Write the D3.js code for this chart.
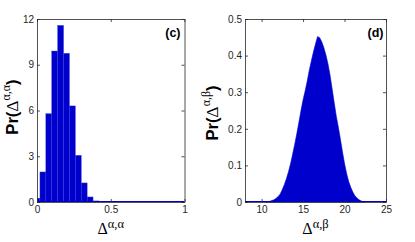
<!DOCTYPE html>
<html><head><meta charset="utf-8">
<script src="https://cdn.jsdelivr.net/npm/d3@7"></script>
<style>
html,body{margin:0;padding:0;background:#fff;}
svg{display:block;}
</style></head>
<body>
<svg id="chart" width="415" height="242"></svg>
<script>
// ---- data ----
// panel (c): histogram bin centres and heights
const binCentersC = [0,0.04,0.08,0.12,0.16,0.20,0.24,0.28,0.32,0.36,0.40,0.44,0.48,0.52,0.56,0.60,0.64,0.68,0.72,0.76,0.80,0.84,0.88,0.92,0.96,1.00];
const binValuesC  = [0.25,1.97,5.79,9.9,11.58,9.75,6.3,3.06,1.25,0.33,0.07,0,0,0,0,0,0,0,0,0,0,0,0,0,0,0];
const binWidthC = 0.04;
// panel (d): distribution
const xValuesD = [10.5,10.75,11.0,11.25,11.5,11.75,12.0,12.25,12.5,12.75,13.0,13.25,13.5,13.75,14.0,14.25,14.5,14.75,15.0,15.25,15.5,15.75,16.0,16.25,16.5,16.75,17.0,17.25,17.5,17.75,18.0,18.25,18.5,18.75,19.0,19.25,19.5,19.75,20.0,20.25,20.5,20.75,21.0,21.25,21.5,21.75,22.0,22.25,22.5];
const yValuesD = [0.000,0.001,0.002,0.004,0.006,0.010,0.015,0.022,0.034,0.048,0.064,0.083,0.105,0.131,0.158,0.187,0.218,0.250,0.279,0.303,0.330,0.360,0.385,0.410,0.432,0.452,0.449,0.438,0.422,0.402,0.378,0.347,0.310,0.272,0.235,0.205,0.172,0.137,0.105,0.078,0.056,0.040,0.027,0.017,0.011,0.006,0.003,0.001,0.000];
// ticks
const xTicksC = [0,0.5,1];
const yTicksC = [0,3,6,9,12];
const xTicksD = [10,15,20,25];
const yTicksD = [0,0.1,0.2,0.3,0.4,0.5];

const BLUE = "#0000cc";
const AX = "#262626";
const SANS = "'Liberation Sans',Arial,Helvetica,sans-serif";
const SERIF = "'Liberation Serif','Times New Roman',serif";
const svg = d3.select("#chart");
svg.append("rect").attr("width",415).attr("height",242).attr("fill","#fff");

function drawAxes(g, x, y, xt, yt, fmt){
  const [x0,x1] = x.range(), [y0,y1] = y.range();
  const styleAxis = sel => {
    sel.selectAll(".domain").attr("stroke",AX).attr("stroke-width",0.8);
    sel.selectAll(".tick line").attr("stroke",AX).attr("stroke-width",0.8);
    sel.selectAll(".tick text").attr("fill",AX).style("font-family",SANS).style("font-size","10px");
  };
  g.append("g").attr("transform",`translate(0,${y0})`)
    .call(d3.axisBottom(x).tickValues(xt).tickFormat(fmt).tickSizeInner(-3).tickSizeOuter(0).tickPadding(4))
    .call(styleAxis);
  g.append("g").attr("transform",`translate(0,${y1})`)
    .call(d3.axisTop(x).tickValues(xt).tickFormat("").tickSizeInner(-3).tickSizeOuter(0))
    .call(styleAxis);
  g.append("g").attr("transform",`translate(${x0},0)`)
    .call(d3.axisLeft(y).tickValues(yt).tickFormat(fmt).tickSizeInner(-3).tickSizeOuter(0).tickPadding(3))
    .call(styleAxis);
  g.append("g").attr("transform",`translate(${x1},0)`)
    .call(d3.axisRight(y).tickValues(yt).tickFormat("").tickSizeInner(-3).tickSizeOuter(0))
    .call(styleAxis);
}

function yTitle(x, yc, sup){
  const t = svg.append("text").attr("transform",`translate(${x},${yc}) rotate(-90)`)
    .attr("text-anchor","middle").attr("fill","#000");
  t.append("tspan").text("Pr(").style("font-family",SANS).style("font-weight","bold").style("font-size","16.5px");
  t.append("tspan").text("Δ").style("font-family",SERIF).style("font-size","17.5px");
  t.append("tspan").text(sup).attr("dy",-8).style("font-family",SERIF).style("font-size","12px");
  t.append("tspan").text(")").attr("dy",8).style("font-family",SANS).style("font-weight","bold").style("font-size","16.5px");
}
function xTitle(xc, yb, sup){
  const t = svg.append("text").attr("x",xc).attr("y",yb).attr("text-anchor","middle").attr("fill","#000");
  t.append("tspan").text("Δ").style("font-family",SERIF).style("font-size","16px");
  t.append("tspan").text(sup).attr("dy",-6).style("font-family",SERIF).style("font-size","12.5px");
}
function panelLabel(x, y, s){
  svg.append("text").attr("x",x).attr("y",y).attr("text-anchor","end").text(s)
    .style("font-family",SANS).style("font-weight","bold").style("font-size","12.5px").attr("fill","#000");
}

// ---- panel (c) ----
const xC = d3.scaleLinear().domain([0,1]).range([37,184.5]);
const yC = d3.scaleLinear().domain([0,12]).range([202,19]);
const defs = svg.append("defs");
defs.append("clipPath").attr("id","clipC").append("rect")
  .attr("x",xC(0)).attr("y",yC(12)).attr("width",xC(1)-xC(0)).attr("height",yC(0)-yC(12));
const gC = svg.append("g");
const barsC = gC.append("g").attr("clip-path","url(#clipC)");
barsC.selectAll("rect").data(binCentersC.map((c,i)=>({c,v:binValuesC[i]})).filter(d=>d.v>0))
  .join("rect")
  .attr("x",d=>xC(d.c-binWidthC/2)).attr("width",d=>xC(d.c+binWidthC/2)-xC(d.c-binWidthC/2))
  .attr("y",d=>yC(d.v)).attr("height",d=>yC(0)-yC(d.v))
  .attr("fill",BLUE).attr("stroke","#3a3ae0").attr("stroke-width",0.4);
barsC.append("line").attr("x1",xC(0)).attr("x2",xC(1)).attr("y1",yC(0)-0.5).attr("y2",yC(0)-0.5)
  .attr("stroke",BLUE).attr("stroke-width",1);
drawAxes(gC, xC, yC, xTicksC, yTicksC, d=>d3.format("")(d));
yTitle(18, 107, "α,α");
xTitle(xC(0.5), 234, "α,α");
panelLabel(180.5, 36.5, "(c)");

// ---- panel (d) ----
const xD = d3.scaleLinear().domain([8,25]).range([245,386]);
const yD = d3.scaleLinear().domain([0,0.5]).range([202,19]);
const gD = svg.append("g");
const area = d3.area().x(d=>xD(d[0])).y0(yD(0)).y1(d=>yD(d[1]));
gD.append("path").datum(xValuesD.map((x,i)=>[x,yValuesD[i]]))
  .attr("d",area).attr("fill",BLUE).attr("stroke",BLUE).attr("stroke-width",0.6);
gD.append("line").attr("x1",xD(8)).attr("x2",xD(25)).attr("y1",yD(0)-0.5).attr("y2",yD(0)-0.5)
  .attr("stroke",BLUE).attr("stroke-width",1);
drawAxes(gD, xD, yD, xTicksD, yTicksD, d=>d3.format("")(d));
yTitle(218, 113, "α,β");
xTitle(xD(16.5), 234, "α,β");
panelLabel(383.5, 36.5, "(d)");
</script>
</body></html>
